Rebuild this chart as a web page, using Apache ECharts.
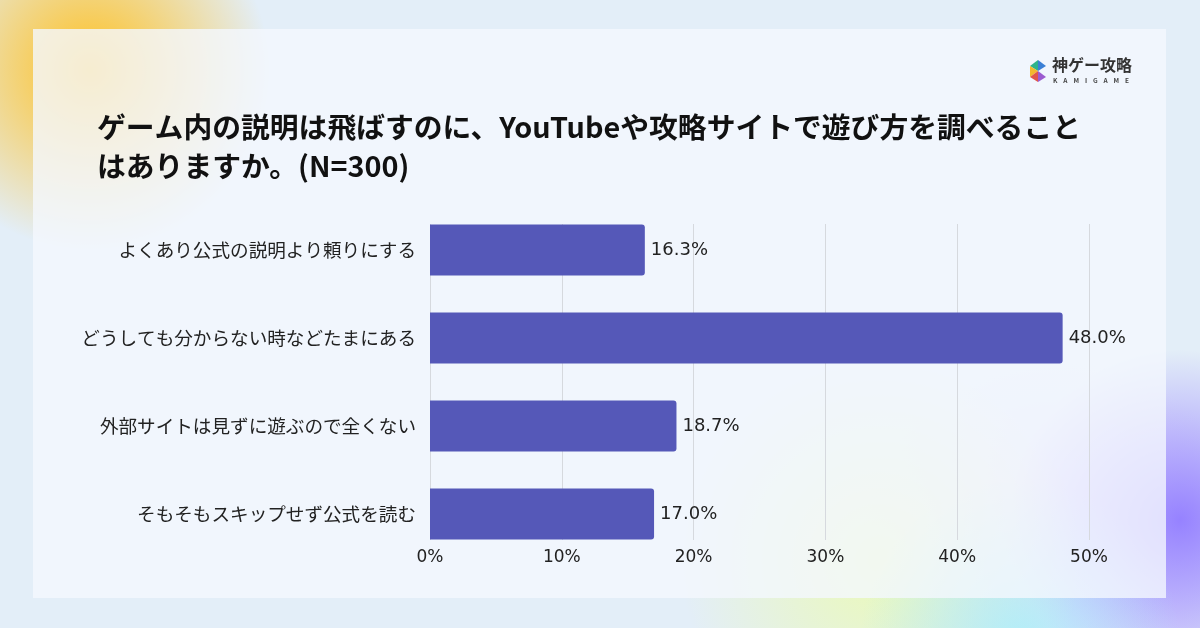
<!DOCTYPE html>
<html><head><meta charset="utf-8">
<script src="https://cdn.jsdelivr.net/npm/echarts@6/dist/echarts.min.js"></script>
<style>html,body{margin:0;padding:0;}#c{width:1200px;height:628px;}</style>
</head><body><div id="c"></div>
<script>
const categories = ['よくあり公式の説明より頼りにする','どうしても分からない時などたまにある','外部サイトは見ずに遊ぶので全くない','そもそもスキップせず公式を読む'];
const values = [16.3, 48.0, 18.7, 17.0];
const titleLines = ['ゲーム内の説明は飛ばすのに、YouTubeや攻略サイトで遊び方を調べること','はありますか。(N=300)'];
const FONT = '"Noto Sans CJK JP","Noto Sans",sans-serif';
const NUMFONT = '"DejaVu Sans","Noto Sans CJK JP",sans-serif';

const chart = echarts.init(document.getElementById('c'));
function blob(cx, cy, r, color){
  return {type:'circle', z:-20, silent:true, shape:{cx:cx, cy:cy, r:r},
    style:{fill:new echarts.graphic.RadialGradient(0.5,0.5,0.5,[{offset:0,color:color},{offset:1,color:color.replace(/[\d.]+\)$/,'0)')}])}};
}
chart.setOption({
  backgroundColor:'#e3eef8',
  graphic:[
    blob(90, 70, 180, 'rgba(255,192,30,1)'),
    blob(1060, 560, 200, 'rgba(220,200,255,0.8)'),
    blob(1180, 520, 170, 'rgba(150,130,255,1)'),
    blob(880, 560, 200, 'rgba(235,250,180,0.95)'),
    blob(1020, 640, 160, 'rgba(170,240,250,0.85)'),
    {type:'rect', z:-15, silent:true, shape:{x:33, y:29, width:1133, height:569}, style:{fill:'rgba(244,248,254,0.8)'}},
    {type:'text', z:5, left:97, top:108, style:{text:titleLines.join('\n'), font:'bold 28.8px '+FONT, fill:'#111', lineHeight:39}},
    {type:'polygon', z:5, shape:{points:[[1030,66],[1038,60],[1038,71]]}, style:{fill:'#2db38a'}},
    {type:'polygon', z:5, shape:{points:[[1038,60],[1046,66],[1038,71]]}, style:{fill:'#3a7fd5'}},
    {type:'polygon', z:5, shape:{points:[[1030,66],[1038,71],[1030,77]]}, style:{fill:'#f3b92d'}},
    {type:'polygon', z:5, shape:{points:[[1030,77],[1038,71],[1038,82]]}, style:{fill:'#e0554a'}},
    {type:'polygon', z:5, shape:{points:[[1038,71],[1046,77],[1038,82]]}, style:{fill:'#9b5bd0'}},
    {type:'text', z:5, left:1052, top:57, style:{text:'神ゲー攻略', font:'bold 16px '+FONT, fill:'#333'}},
    {type:'text', z:5, left:1053, top:77, style:{text:'K    A    M    I    G    A    M    E', font:'bold 6.5px '+FONT, fill:'#444'}}
  ],
  grid:[
    {left:430, right:111, top:206, bottom:70, containLabel:false},
    {left:430, right:111, top:224, bottom:88, containLabel:false}
  ],
  xAxis:[
    {gridIndex:0, type:'value', min:0, max:50, interval:10, show:false},
    {gridIndex:1, type:'value', min:0, max:50, interval:10,
      axisLabel:{formatter:'{value}%', color:'#222', fontSize:17, fontFamily:NUMFONT, margin:9},
      splitLine:{lineStyle:{color:'#d6d9de', width:1}},
      axisLine:{show:false}, axisTick:{show:false}}
  ],
  yAxis:[
    {gridIndex:0, type:'category', data:categories, inverse:true,
      axisLabel:{color:'#222', fontSize:18.6, fontFamily:FONT, margin:14},
      axisLine:{show:false}, axisTick:{show:false}, splitLine:{show:false}},
    {gridIndex:1, type:'category', data:categories, inverse:true, show:false}
  ],
  series:[{type:'bar', xAxisIndex:0, yAxisIndex:0, data:values, barWidth:51, z:3,
    itemStyle:{color:'#5558b8', borderRadius:[0,3,3,0]},
    label:{show:true, position:'right', distance:6, formatter:p=>p.value.toFixed(1)+'%', color:'#222', fontSize:18, fontFamily:NUMFONT}}]
});
</script></body></html>
